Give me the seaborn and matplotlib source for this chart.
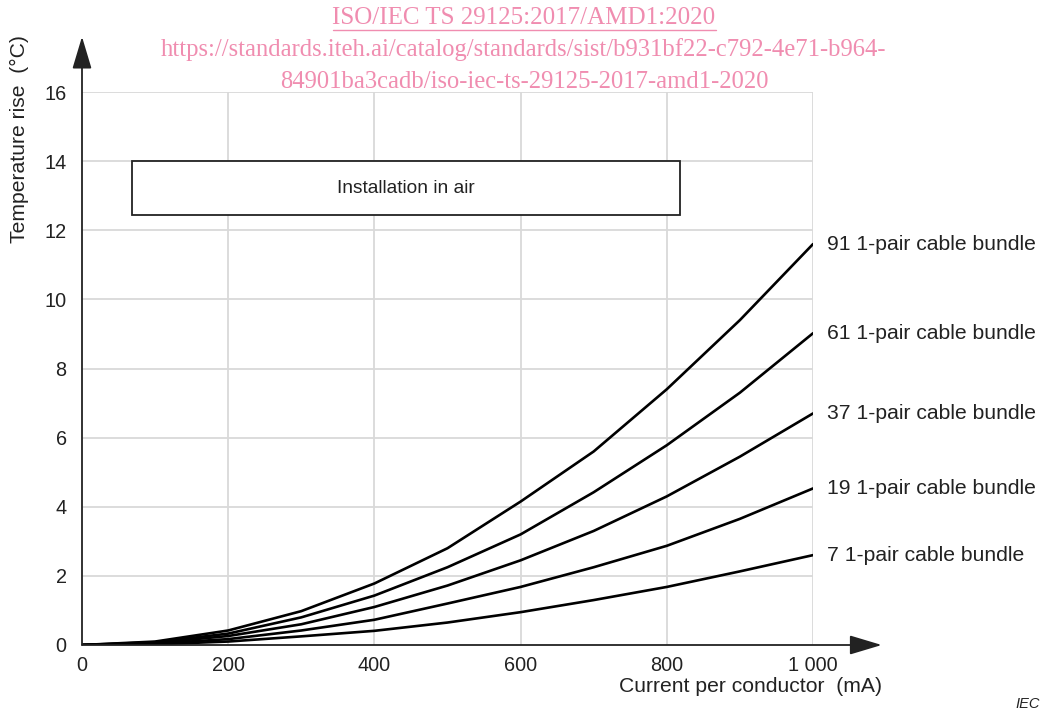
import numpy as np
import pandas as pd
import matplotlib
matplotlib.use('Agg')
import matplotlib.pyplot as plt
from matplotlib.lines import Line2D
from matplotlib.patches import Rectangle
import seaborn as sns

# current per conductor (mA)
current = [0, 100, 200, 300, 400, 500, 600, 700, 800, 900, 1000]

# temperature rise (degC) per bundle size
rise_91 = [0, 0.10, 0.42, 0.98, 1.78, 2.80, 4.15, 5.60, 7.40, 9.40, 11.60]
rise_61 = [0, 0.08, 0.33, 0.80, 1.43, 2.25, 3.20, 4.42, 5.78, 7.30, 9.02]
rise_37 = [0, 0.06, 0.26, 0.60, 1.10, 1.72, 2.45, 3.30, 4.30, 5.45, 6.70]
rise_19 = [0, 0.04, 0.17, 0.42, 0.73, 1.20, 1.68, 2.25, 2.87, 3.65, 4.53]
rise_7 = [0, 0.02, 0.10, 0.25, 0.41, 0.65, 0.95, 1.30, 1.68, 2.13, 2.60]

bundles = ['91 1-pair cable bundle', '61 1-pair cable bundle',
           '37 1-pair cable bundle', '19 1-pair cable bundle',
           '7 1-pair cable bundle']
series = [rise_91, rise_61, rise_37, rise_19, rise_7]

x_ticks = [0, 200, 400, 600, 800, 1000]
x_ticklabels = ['0', '200', '400', '600', '800', '1 000']
y_ticks = [0, 2, 4, 6, 8, 10, 12, 14, 16]

# long form for seaborn
frames = []
for name, vals in zip(bundles, series):
    frames.append(pd.DataFrame({'current': current, 'rise': vals, 'bundle': name}))
data = pd.concat(frames, ignore_index=True)

sns.set_style('white')
plt.rcParams['font.family'] = ['Liberation Sans', 'DejaVu Sans']

fig = plt.figure(figsize=(10.44, 7.10), dpi=100)
ax = fig.add_axes([82 / 1044, 65 / 710, 731 / 1044, 553 / 710])

# grid
for xv in x_ticks[1:]:
    ax.plot([xv, xv], [0, 16], color='#d9d9d9', lw=1.3, zorder=1)
for yv in y_ticks[1:]:
    ax.plot([0, 1000], [yv, yv], color='#d9d9d9', lw=1.3, zorder=1)

sns.lineplot(data=data, x='current', y='rise', hue='bundle',
             palette=['black'] * len(bundles), linewidth=1.9,
             legend=False, ax=ax, zorder=3)

ax.set_xlim(0, 1000)
ax.set_ylim(0, 16)
ax.set_xticks(x_ticks)
ax.set_xticklabels(x_ticklabels)
ax.set_yticks(y_ticks)
ax.tick_params(length=0, labelsize=14.3, colors='#222222')
ax.tick_params(axis='x', pad=8)
ax.tick_params(axis='y', pad=11)
for s in ax.spines.values():
    s.set_visible(False)
ax.set_xlabel('')
ax.set_ylabel('')

# axis arrows
arrow = dict(arrowstyle='-|>,head_length=1.0,head_width=0.3', color='#222222',
             lw=1.3, mutation_scale=20, shrinkA=0, shrinkB=0)
ax.annotate('', xy=(1094, 0), xytext=(0, 0), arrowprops=arrow,
            annotation_clip=False, zorder=4)
ax.annotate('', xy=(0, 17.6), xytext=(0, 0), arrowprops=arrow,
            annotation_clip=False, zorder=4)

# curve labels
for name, vals in zip(bundles, series):
    ax.text(1019, vals[-1], name, fontsize=15.2, va='center', ha='left',
            color='#222222')

# installation box
ax.add_patch(Rectangle((68, 12.44), 750, 1.56, facecolor='white',
                       edgecolor='#222222', lw=1.3, zorder=2))
ax.text(443, 13.22, 'Installation in air', fontsize=13.8, ha='center',
        va='center', color='#222222', zorder=3)

ax.text(1094, -1.2, 'Current per conductor  (mA)', fontsize=15.2,
        ha='right', va='center', color='#222222', clip_on=False)
fig.text(19 / 1044, 1 - 139 / 710, 'Temperature rise  (\u00b0C)', fontsize=15.2,
         rotation=90, ha='center', va='center', color='#222222')
fig.text(1040 / 1044, 1 - 704 / 710, 'IEC', fontsize=10.5, style='italic',
         ha='right', va='center', color='#222222')

# pink header
pink = '#f08db0'
serif = ['Liberation Serif', 'DejaVu Serif']
fig.text(524 / 1044, 1 - 18 / 710, 'ISO/IEC TS 29125:2017/AMD1:2020',
         family=serif, fontsize=18, color=pink, ha='center', va='center')
fig.add_artist(Line2D([333 / 1044, 716 / 1044], [1 - 30 / 710, 1 - 30 / 710],
                      color=pink, lw=1.0))
fig.text(524 / 1044, 1 - 50 / 710,
         'https://standards.iteh.ai/catalog/standards/sist/b931bf22-c792-4e71-b964-',
         family=serif, fontsize=17.7, color=pink, ha='center', va='center')
fig.text(524 / 1044, 1 - 82 / 710,
         '84901ba3cadb/iso-iec-ts-29125-2017-amd1-2020',
         family=serif, fontsize=17.7, color=pink, ha='center', va='center')

fig.savefig('out.png', dpi=100)
